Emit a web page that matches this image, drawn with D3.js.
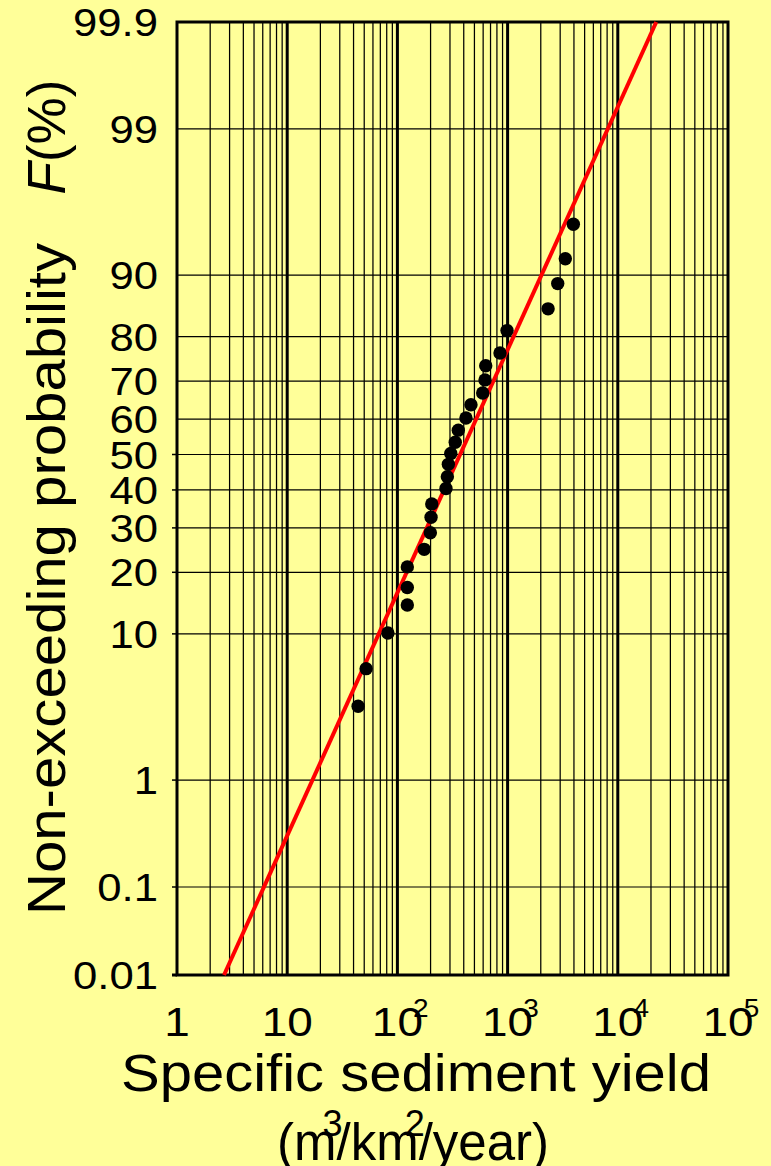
<!DOCTYPE html>
<html><head><meta charset="utf-8">
<script src="https://cdn.jsdelivr.net/npm/d3@7"></script>
<style>
html,body{margin:0;padding:0;background:#FFFF99;}
svg{display:block;font-family:"Liberation Sans",Arial,sans-serif;}
</style>
</head><body>
<svg id="c" width="771" height="1166"></svg>
<script>
// ---------- data ----------
const probTicks = [99.9, 99, 90, 80, 70, 60, 50, 40, 30, 20, 10, 1, 0.1, 0.01];
const probTickLabels = ["99.9","99","90","80","70","60","50","40","30","20","10","1","0.1","0.01"];
const gridProbs = [99, 90, 80, 70, 60, 50, 40, 30, 20, 10, 1, 0.1];
const leftTickProbs = [50, 40, 30, 20, 10, 1, 0.1, 0.01];
const decadeTicks = [1, 10, 100, 1000, 10000, 100000];
const decadeBase = ["1", "10", "10", "10", "10", "10"];
const decadeExp = ["", "", "2", "3", "4", "5"];
const yieldValues = [44, 52, 82, 123, 123, 123, 175, 199, 202, 205, 276, 284, 290, 305, 335, 357, 419, 465, 594, 624, 633, 853, 988, 2330, 2850, 3340, 3950];
const probValues = [3.6, 6.3, 10.1, 14.1, 17.1, 21.1, 24.9, 28.8, 32.7, 36.2, 40.4, 43.7, 47.2, 50.3, 53.5, 56.9, 60.3, 63.9, 67.0, 70.3, 73.7, 76.6, 81.2, 85.1, 88.9, 91.9, 95.0];
const fitLogMean = 2.569;
const fitLogSd = 0.576;
const fitProbRange = [0.01, 99.9];

// ---------- inverse normal CDF (probability paper transform) ----------
function probit(p) {
  const a = [-3.969683028665376e+01, 2.209460984245205e+02, -2.759285104469687e+02, 1.383577518672690e+02, -3.066479806614716e+01, 2.506628277459239e+00];
  const b = [-5.447609879822406e+01, 1.615858368580409e+02, -1.556989798598866e+02, 6.680131188771972e+01, -1.328068155288572e+01];
  const c = [-7.784894002430293e-03, -3.223964580411365e-01, -2.400758277161838e+00, -2.549732539343734e+00, 4.374664141464968e+00, 2.938163982698783e+00];
  const d = [7.784695709041462e-03, 3.224671290700398e-01, 2.445134137142996e+00, 3.754408661907416e+00];
  const pl = 0.02425, ph = 1 - pl;
  let q, r;
  if (p < pl) {
    q = Math.sqrt(-2 * Math.log(p));
    return (((((c[0]*q+c[1])*q+c[2])*q+c[3])*q+c[4])*q+c[5]) / ((((d[0]*q+d[1])*q+d[2])*q+d[3])*q+1);
  } else if (p <= ph) {
    q = p - 0.5; r = q * q;
    return (((((a[0]*r+a[1])*r+a[2])*r+a[3])*r+a[4])*r+a[5])*q / (((((b[0]*r+b[1])*r+b[2])*r+b[3])*r+b[4])*r+1);
  } else {
    q = Math.sqrt(-2 * Math.log(1 - p));
    return -(((((c[0]*q+c[1])*q+c[2])*q+c[3])*q+c[4])*q+c[5]) / ((((d[0]*q+d[1])*q+d[2])*q+d[3])*q+1);
  }
}

// ---------- layout ----------
const L = 177, R = 728, T = 22, B = 975;
const svg = d3.select("#c");
svg.append("rect").attr("width", 771).attr("height", 1166).attr("fill", "#FFFF99");

const x = d3.scaleLog().domain([1, 100000]).range([L, R]);
const yz = d3.scaleLinear().domain([probit(0.0001), probit(0.999)]).range([B, T]);
const y = p => yz(probit(p / 100));

const g = svg.append("g");

// minor vertical gridlines
const minors = [];
for (let e = 0; e < 5; e++) for (let k = 2; k <= 9; k++) minors.push(k * Math.pow(10, e));
g.selectAll(".vminor").data(minors).join("line")
  .attr("x1", d => x(d)).attr("x2", d => x(d)).attr("y1", T).attr("y2", B)
  .attr("stroke", "#000").attr("stroke-width", 1.25);

// horizontal gridlines
g.selectAll(".hgrid").data(gridProbs).join("line")
  .attr("x1", L).attr("x2", R).attr("y1", d => y(d)).attr("y2", d => y(d))
  .attr("stroke", "#000").attr("stroke-width", 1.2);

// left ticks
g.selectAll(".ltick").data(leftTickProbs).join("line")
  .attr("x1", L - 5).attr("x2", L).attr("y1", d => y(d)).attr("y2", d => y(d))
  .attr("stroke", "#000").attr("stroke-width", 1.5);

// decade lines
g.selectAll(".vmajor").data([10, 100, 1000, 10000]).join("line")
  .attr("x1", d => x(d)).attr("x2", d => x(d)).attr("y1", T).attr("y2", B)
  .attr("stroke", "#000").attr("stroke-width", 3);

// frame
g.append("rect").attr("x", L).attr("y", T).attr("width", R - L).attr("height", B - T)
  .attr("fill", "none").attr("stroke", "#000").attr("stroke-width", 3);
g.append("line").attr("x1", L - 5).attr("x2", L).attr("y1", B).attr("y2", B)
  .attr("stroke", "#000").attr("stroke-width", 3);

// fitted line
const fitPts = fitProbRange.map(p => [Math.pow(10, fitLogMean + fitLogSd * probit(p / 100)), p]);
g.append("path")
  .attr("d", d3.line().x(d => x(d[0])).y(d => y(d[1]))(fitPts))
  .attr("stroke", "#FF0000").attr("stroke-width", 4).attr("fill", "none");

// points
g.selectAll(".pt").data(yieldValues.map((v, i) => [v, probValues[i]])).join("circle")
  .attr("cx", d => x(d[0])).attr("cy", d => y(d[1])).attr("r", 6.7).attr("fill", "#000");

// y tick labels
svg.selectAll(".ylab").data(probTicks).join("text")
  .attr("transform", d => `translate(158,${y(d)}) scale(1.12,1)`)
  .attr("text-anchor", "end").attr("dy", "0.36em")
  .attr("font-size", 39).attr("fill", "#000")
  .text((d, i) => probTickLabels[i]);

// x tick labels
const xl = svg.selectAll(".xlab").data(decadeTicks).join("g")
  .attr("transform", d => `translate(${x(d)},1036) scale(1.12,1)`);
xl.append("text").attr("text-anchor", "middle").attr("font-size", 41).attr("fill", "#000")
  .text((d, i) => decadeBase[i]);
xl.append("text").attr("x", 14).attr("y", -19).attr("font-size", 25).attr("fill", "#000")
  .text((d, i) => decadeExp[i]);

// x title
svg.append("text").attr("x", 416).attr("y", 1091).attr("text-anchor", "middle")
  .attr("font-size", 51).attr("textLength", 590).attr("lengthAdjust", "spacingAndGlyphs")
  .text("Specific sediment yield");
const t2 = svg.append("text").attr("x", 413).attr("y", 1160).attr("text-anchor", "middle")
  .attr("font-size", 51);
t2.append("tspan").text("(m");
t2.append("tspan").attr("dx", -14).attr("dy", -24).attr("font-size", 36).text("3");
t2.append("tspan").attr("dx", -6).attr("dy", 24).text("/km");
t2.append("tspan").attr("dx", -14).attr("dy", -24).attr("font-size", 36).text("2");
t2.append("tspan").attr("dx", -6).attr("dy", 24).text("/year)");

// y title
svg.append("text").attr("transform", "translate(65,579) rotate(-90)")
  .attr("text-anchor", "middle").attr("font-size", 53)
  .attr("textLength", 672).attr("lengthAdjust", "spacingAndGlyphs")
  .text("Non-exceeding probability");
const t3 = svg.append("text").attr("transform", "translate(65,137) rotate(-90)")
  .attr("text-anchor", "middle").attr("font-size", 53);
t3.append("tspan").attr("font-style", "italic").text("F");
t3.append("tspan").text("(%)");
</script>
</body></html>
